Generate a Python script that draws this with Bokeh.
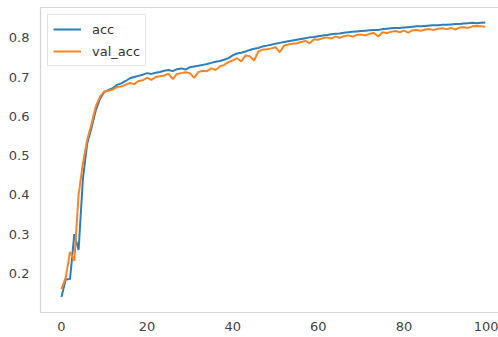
from bokeh.plotting import figure
from bokeh.models import Range1d, FixedTicker, LinearAxis, Legend, LegendItem, ColumnDataSource
from bokeh.embed import file_html
from bokeh.resources import INLINE

epochs = list(range(100))
acc = [0.140, 0.185, 0.186, 0.300, 0.260, 0.440, 0.530, 0.570, 0.615, 0.645,
       0.662, 0.667, 0.672, 0.680, 0.684, 0.690, 0.697, 0.700, 0.703, 0.706,
       0.710, 0.708, 0.711, 0.713, 0.716, 0.718, 0.715, 0.720, 0.722, 0.719,
       0.725, 0.727, 0.729, 0.731, 0.733, 0.736, 0.739, 0.741, 0.744, 0.748,
       0.755, 0.760, 0.762, 0.765, 0.769, 0.772, 0.774, 0.778, 0.780, 0.782,
       0.785, 0.787, 0.789, 0.791, 0.793, 0.795, 0.797, 0.799, 0.801, 0.802,
       0.804, 0.806, 0.807, 0.809, 0.810, 0.811, 0.813, 0.814, 0.815, 0.816,
       0.817, 0.818, 0.819, 0.820, 0.820, 0.822, 0.823, 0.824, 0.825, 0.825,
       0.826, 0.827, 0.828, 0.829, 0.829, 0.830, 0.831, 0.832, 0.832, 0.833,
       0.833, 0.834, 0.835, 0.835, 0.836, 0.837, 0.838, 0.837, 0.838, 0.839]
val_acc = [0.160, 0.190, 0.255, 0.232, 0.400, 0.480, 0.540, 0.580, 0.625, 0.650,
           0.663, 0.665, 0.668, 0.675, 0.676, 0.680, 0.685, 0.682, 0.690, 0.692,
           0.698, 0.693, 0.700, 0.702, 0.704, 0.708, 0.695, 0.708, 0.710, 0.712,
           0.710, 0.698, 0.713, 0.716, 0.715, 0.722, 0.718, 0.727, 0.731, 0.738,
           0.742, 0.748, 0.740, 0.755, 0.753, 0.742, 0.765, 0.770, 0.771, 0.773,
           0.776, 0.763, 0.780, 0.783, 0.785, 0.786, 0.789, 0.792, 0.786, 0.796,
           0.795, 0.799, 0.801, 0.798, 0.803, 0.800, 0.804, 0.806, 0.803, 0.807,
           0.808, 0.806, 0.810, 0.812, 0.803, 0.814, 0.812, 0.815, 0.817, 0.814,
           0.818, 0.813, 0.819, 0.820, 0.818, 0.821, 0.822, 0.820, 0.823, 0.824,
           0.822, 0.825, 0.821, 0.826, 0.827, 0.825, 0.829, 0.830, 0.829, 0.828]
x_ticks = [0, 20, 40, 60, 80, 100]
y_ticks = [0.2, 0.3, 0.4, 0.5, 0.6, 0.7, 0.8]
y_tick_labels = ["0.2", "0.3", "0.4", "0.5", "0.6", "0.7", "0.8"]
series_names = ["acc", "val_acc"]
series_colors = ["#2a7fbc", "#ff8423"]

src = ColumnDataSource(dict(epoch=epochs, acc=acc, val_acc=val_acc))

FONT = "DejaVu Sans"
TEXT = "#444444"
EDGE = "#d4d4d4"

p = figure(width=498, height=337, output_backend="svg", toolbar_location=None,
           x_range=Range1d(-4.9, 102.1), y_range=Range1d(0.1007, 0.877),
           min_border_left=40, min_border_right=0, min_border_top=7, min_border_bottom=25,
           background_fill_color="white", border_fill_color="white")
p.outline_line_color = None
p.grid.visible = False

r1 = p.line("epoch", "acc", source=src, line_color=series_colors[0], line_width=2)
r2 = p.line("epoch", "val_acc", source=src, line_color=series_colors[1], line_width=2)

for ax in (p.xaxis[0], p.yaxis[0]):
    ax.axis_line_color = EDGE
    ax.axis_line_width = 1.2
    ax.major_tick_line_color = None
    ax.minor_tick_line_color = None
    ax.major_tick_out = 0
    ax.major_tick_in = 0
    ax.major_label_text_font = FONT
    ax.major_label_text_font_size = "13px"
    ax.major_label_text_color = TEXT

p.xaxis[0].ticker = FixedTicker(ticks=x_ticks)
p.xaxis[0].major_label_standoff = 9
p.yaxis[0].ticker = FixedTicker(ticks=y_ticks)
p.yaxis[0].major_label_overrides = {t: l for t, l in zip(y_ticks, y_tick_labels)}
p.yaxis[0].major_label_standoff = 11

top = LinearAxis(ticker=FixedTicker(ticks=[]), axis_line_color=EDGE, axis_line_width=1.2,
                 major_tick_line_color=None, minor_tick_line_color=None,
                 major_tick_out=0, major_tick_in=0, major_label_standoff=0,
                 major_label_text_font_size="0px")
p.add_layout(top, "above")

legend = Legend(items=[LegendItem(label=series_names[0], renderers=[r1]),
                       LegendItem(label=series_names[1], renderers=[r2])],
                location="top_left", margin=7, padding=5, spacing=4,
                glyph_width=28, glyph_height=18, label_height=18, label_standoff=11,
                label_text_font=FONT, label_text_font_size="13px", label_text_color="#333333",
                border_line_color="#cccccc", border_line_width=1,
                background_fill_color="white", background_fill_alpha=0.8)
p.add_layout(legend)

open("out.html", "w").write(file_html(p, INLINE))
